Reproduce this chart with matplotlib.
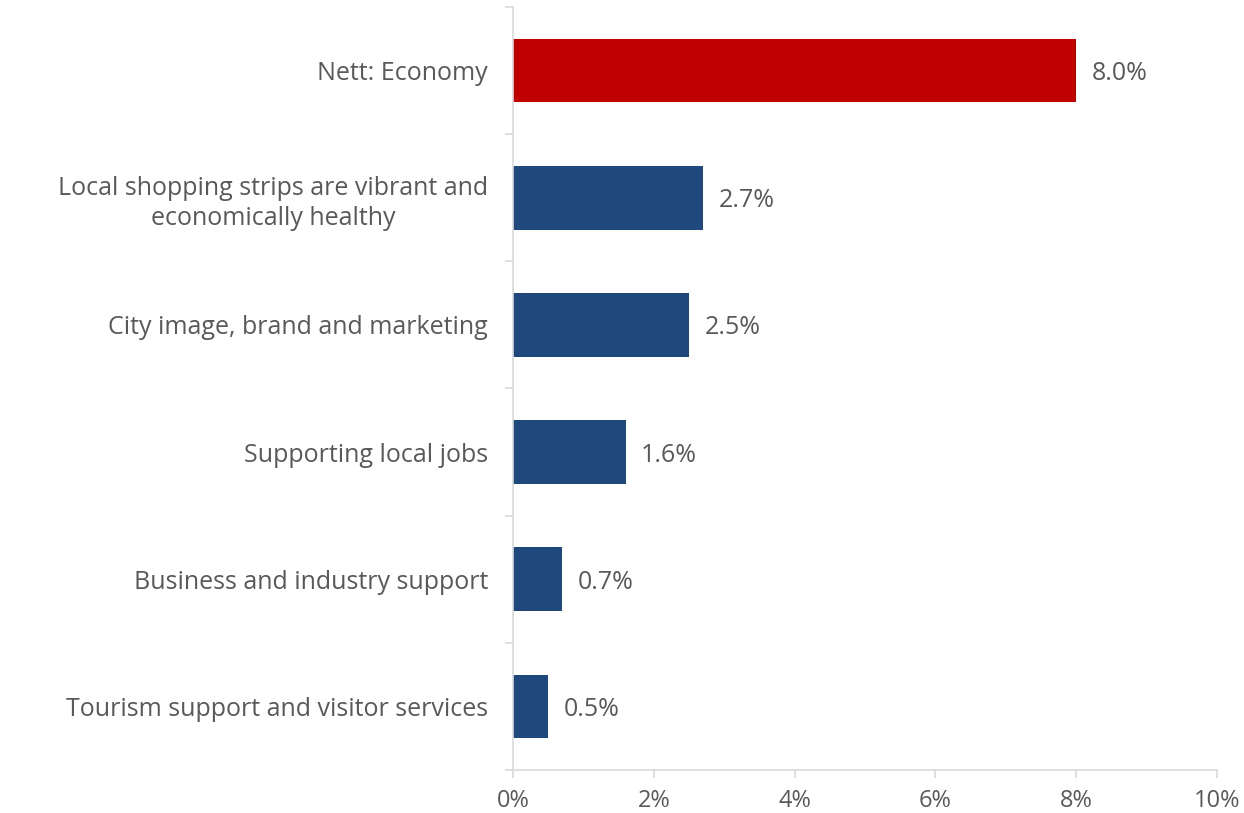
import matplotlib.pyplot as plt
from matplotlib.ticker import FixedLocator, FuncFormatter

plt.rcParams['font.family'] = ['Open Sans', 'DejaVu Sans']

# 数据
categories = [
    'Nett: Economy',
    'Local shopping strips are vibrant and\neconomically healthy',
    'City image, brand and marketing',
    'Supporting local jobs',
    'Business and industry support',
    'Tourism support and visitor services',
]
values = [8.0, 2.7, 2.5, 1.6, 0.7, 0.5]
bar_colors = ['#c00000', '#1f497d', '#1f497d', '#1f497d', '#1f497d', '#1f497d']
x_ticks = [0, 2, 4, 6, 8, 10]

text_color = '#595959'
axis_color = '#d9d9d9'

fig = plt.figure(figsize=(12.44, 8.13), dpi=100)
ax = fig.add_axes([0.4124, 0.0529, 0.9783 - 0.4124, 0.9914 - 0.0529])

y_pos = list(range(len(categories)))
ax.barh(y_pos, values, height=0.5, color=bar_colors)

# 数值标签
for y, v in zip(y_pos, values):
    ax.annotate(f'{v:.1f}%', xy=(v, y), xytext=(11, 0), textcoords='offset points',
                va='center_baseline', ha='left', fontsize=18, color=text_color)

ax.set_xlim(0, 10)
ax.set_ylim(len(categories) - 0.5, -0.5)

ax.set_xticks(x_ticks)
ax.xaxis.set_major_formatter(FuncFormatter(lambda x, _: f'{x:.0f}%'))
ax.tick_params(axis='x', length=6, width=1.2, color=axis_color, labelsize=17,
               labelcolor=text_color, pad=8)

# 类别分隔刻度
ax.set_yticks(y_pos)
ax.set_yticklabels(categories, fontsize=18, color=text_color, ha='right',
                   multialignment='center', linespacing=1.3)
ax.tick_params(axis='y', which='major', length=0, pad=18)
ax.yaxis.set_minor_locator(FixedLocator([i - 0.5 for i in range(len(categories) + 1)]))
ax.tick_params(axis='y', which='minor', length=6, width=1.2, color=axis_color)

for side in ['top', 'right']:
    ax.spines[side].set_visible(False)
for side in ['left', 'bottom']:
    ax.spines[side].set_color(axis_color)
    ax.spines[side].set_linewidth(1.2)

fig.savefig('out.png', dpi=100)
